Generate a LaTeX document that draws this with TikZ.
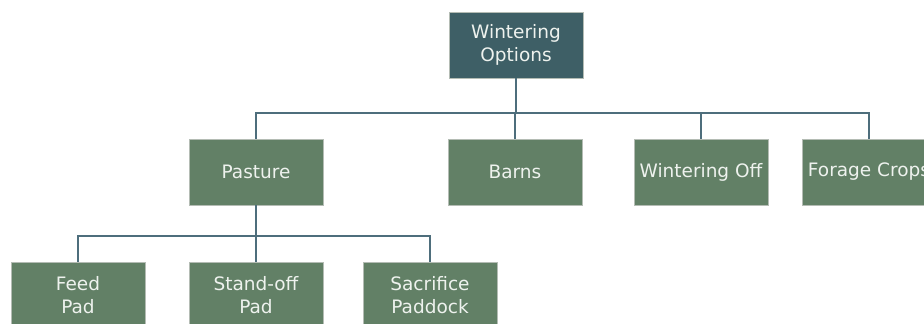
\documentclass[tikz,border=0pt]{standalone}
\usepackage{fontspec}
\setmainfont{DejaVu Sans}
\definecolor{rootfill}{HTML}{3E5F66}
\definecolor{boxfill}{HTML}{628066}
\definecolor{boxline}{HTML}{B4BCB4}
\definecolor{wire}{HTML}{4E6E7C}
\definecolor{txt}{HTML}{EEF2EE}
\begin{document}
\begin{tikzpicture}[x=1pt,y=-1pt,
  box/.style={draw=boxline,line width=0.9pt,fill=boxfill,minimum width=134pt,minimum height=66pt,
    inner sep=0pt,outer sep=0pt,align=center,text=txt,
    font=\fontsize{18.5}{23}\selectfont},
  rootbox/.style={box,fill=rootfill},
  wirestyle/.style={draw=wire,line width=1.2pt}]
\useasboundingbox (0,0) rectangle (924,324);
\begin{scope}
\clip (0,0) rectangle (924,324);
\node[rootbox] (root) at (516,45) {Wintering\\Options};
\node[box] (pasture) at (256,172) {Pasture};
\node[box] (barns) at (515,172) {Barns};
\node[box] (woff) at (701,172) {Wintering Off};
\node[box] (forage) at (869,172) {Forage Crops};
\node[box] (feed) at (78,295) {Feed\\Pad};
\node[box] (stand) at (256,295) {Stand-off\\Pad};
\node[box] (sacr) at (430,295) {Sacrifice\\Paddock};
\foreach \c in {pasture,barns,woff,forage}
  \draw[wirestyle] (root.south) -- ++(0,35) -| (\c.north);
\foreach \c in {feed,stand,sacr}
  \draw[wirestyle] (pasture.south) -- ++(0,31) -| (\c.north);
\end{scope}
\end{tikzpicture}
\end{document}
